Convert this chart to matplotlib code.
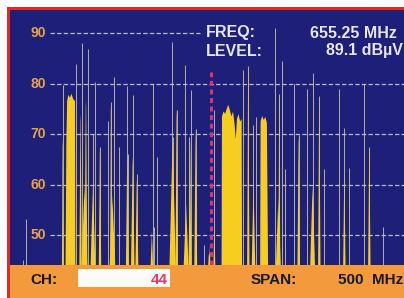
import matplotlib
matplotlib.use("Agg")
import matplotlib.pyplot as plt
from matplotlib.patches import Rectangle, Polygon

plt.rcParams['font.family'] = ['Liberation Sans', 'DejaVu Sans']

# carriers: thin vertical traces (MHz, dBuV)
carrier_f = [416.1, 420.3, 466.8, 483.3, 491.8, 499.4, 504.9, 508.3, 514.2, 524.8,
             528.2, 532.4, 537.9, 548.9, 550.2, 556.5, 560.7, 581.0, 582.7, 586.1,
             606.0, 607.3, 611.5, 622.1, 627.6, 629.7, 636.0, 646.6, 659.3, 695.2,
             702.4, 708.8, 712.2, 736.3, 741.8, 744.7, 749.4, 760.4, 766.3, 776.5,
             784.1, 792.5, 798.9, 817.9, 824.3, 830.6, 849.6, 856.0, 873.8]
carrier_db = [45, 53.2, 79.7, 83.8, 88.1, 86.9, 70, 80.4, 67.5, 72.5,
              76.4, 81.4, 67.5, 79.5, 66, 77.7, 62, 80, 51.6, 65.5,
              88.3, 69.5, 74.8, 83.7, 69.5, 78.7, 71, 48, 74.8, 82.7,
              83.4, 71.8, 73.4, 91, 78, 84.5, 63, 80, 69.8, 79,
              82.2, 77.5, 63, 79, 71.3, 63.2, 80, 67.5, 51.6]

# analog channel bodies (yellow): centre, peak, half width at floor
body_f = [466.9, 489.5, 494.5, 496.4, 505.3, 514.2, 530.0, 528.2, 548.9, 555.8,
          561.0, 580.0, 606.4, 611.5, 623.5, 628.4, 635.7, 653.0, 659.3, 702.4,
          709.0, 740.5, 741.8, 766.3, 784.0, 792.5, 824.3, 856.0]
body_db = [69, 74, 60, 76.8, 60, 67.5, 58, 76, 66, 65.5,
           61, 51, 69, 75, 56.3, 69, 71, 48, 52, 83.4,
           60, 57.5, 78, 69.8, 60, 77.4, 62, 67.5]
body_w = [1.0, 1.5, 3.5, 1.8, 3, 1.5, 3.5, 1.2, 1.8, 2.2,
          1.8, 1.5, 4, 1.5, 3, 1.8, 1.8, 1.5, 1.2, 1.5,
          2.2, 3, 1.2, 1.5, 3, 1.5, 1.5, 1.5]

# digital multiplex blocks, outline points
blockA_f = [470.5, 471.5, 472.5, 474, 476, 478, 480, 482.5, 483]
blockA_db = [44, 68, 76.5, 77.8, 77.2, 78, 77, 76.5, 44]
blockB_f = [668.5, 669, 671, 673, 675, 677, 679, 681, 683, 685, 686.5, 688, 690, 692, 694, 694.5]
blockB_db = [44, 73.5, 74.5, 74, 75, 75.8, 74.8, 73.5, 74.5, 72, 69, 73, 74, 72.5, 73, 44]
blockC_f = [717.5, 718, 720, 722, 724, 726, 727.5]
blockC_db = [44, 72.5, 73.6, 72.8, 73.4, 72.2, 44]

grid_levels = [50, 60, 70, 80, 90]
marker_f = 655.25
marker_db = 82.7
freq_text = "655.25 MHz"
level_text = "89.1 dB\u00b5V"
channel = "44"
span_text = "500  MHz"

W, H = 404, 298
fig = plt.figure(figsize=(W / 100, H / 100), dpi=100)
fig.patch.set_facecolor('white')

def fx(px):
    return px / W

def fy(py):
    return 1 - py / H

# red frame, orange status band, channel box
fig.add_artist(Rectangle((fx(7), 0), 1, fy(7), transform=fig.transFigure,
                         facecolor='#e02a2a', edgecolor='none', zorder=-3))
fig.add_artist(Rectangle((fx(10), 0), 1, fy(265), transform=fig.transFigure,
                         facecolor='#f29a3c', edgecolor='none', zorder=-2))
fig.add_artist(Rectangle((fx(78), fy(287)), fx(92), fy(269) - fy(287), transform=fig.transFigure,
                         facecolor='#fdfbf8', edgecolor='none', zorder=-1))

ax = fig.add_axes([fx(10), fy(265), 1 - fx(10), fy(10) - fy(265)])
ax.set_zorder(1)
ax.set_facecolor('#1d1f78')
ax.set_xlim(400, 900)
ax.set_ylim(44.05, 94.6)
for s in ax.spines.values():
    s.set_visible(False)
ax.set_xticks([])
ax.set_yticks([])

bottom = 44.05
for f, d in zip(carrier_f, carrier_db):
    ax.vlines(f, bottom, d, color='#c8c4a4', lw=0.75, alpha=0.85, zorder=3)

yellow = '#f7cd1f'
for f, d, w in zip(body_f, body_db, body_w):
    mid = bottom + (d - bottom) * 0.45
    ax.add_patch(Polygon([(f - w, bottom), (f - w * 0.55, mid), (f - 0.25, d - 1.5), (f, d),
                          (f + 0.25, d - 1.5), (f + w * 0.55, mid), (f + w, bottom)],
                         closed=True, facecolor=yellow, edgecolor='none', zorder=4))
for bf, bd in [(blockA_f, blockA_db), (blockB_f, blockB_db), (blockC_f, blockC_db)]:
    ax.fill(bf, bd, color=yellow, lw=0, zorder=4)

# grid and level labels
for lv in grid_levels:
    xmax = 641 if lv == 90 else 900
    ax.hlines(lv, 450.8, xmax, color='#b9b9e2', lw=0.9, linestyles=(0, (3.5, 1.8)), zorder=2)
    ax.text(446, lv, str(lv), color='#e9a24a', fontsize=10, fontweight='bold',
            ha='right', va='center', zorder=6)

# marker
ax.vlines(marker_f, bottom, marker_db, color='#e2306e', lw=2.2, linestyles=(0, (1.6, 1.2)), zorder=5)

txt = '#e6e6f2'
fig.text(fx(206), fy(33), "FREQ:", color=txt, fontsize=11.5, fontweight='bold', va='center', ha='left', zorder=5)
fig.text(fx(206), fy(51), "LEVEL:", color=txt, fontsize=11.5, fontweight='bold', va='center', ha='left', zorder=5)
fig.text(fx(397), fy(33), freq_text, color=txt, fontsize=11.5, fontweight='bold', va='center', ha='right', zorder=5)
fig.text(fx(403), fy(51), level_text, color=txt, fontsize=11.5, fontweight='bold', va='center', ha='right', zorder=5)

# status line
fig.text(fx(30), fy(280), "CH:", color='#1a1a1a', fontsize=11, fontweight='bold', va='center', ha='left')
fig.text(fx(168), fy(280), channel, color='#e03a6a', fontsize=11, fontweight='bold', va='center', ha='right')
fig.text(fx(251), fy(280), "SPAN:", color='#1a1a1a', fontsize=11, fontweight='bold', va='center', ha='left')
fig.text(fx(403), fy(280), span_text, color='#1a1a1a', fontsize=11, fontweight='bold', va='center', ha='right')

fig.savefig('out.png', dpi=100)
